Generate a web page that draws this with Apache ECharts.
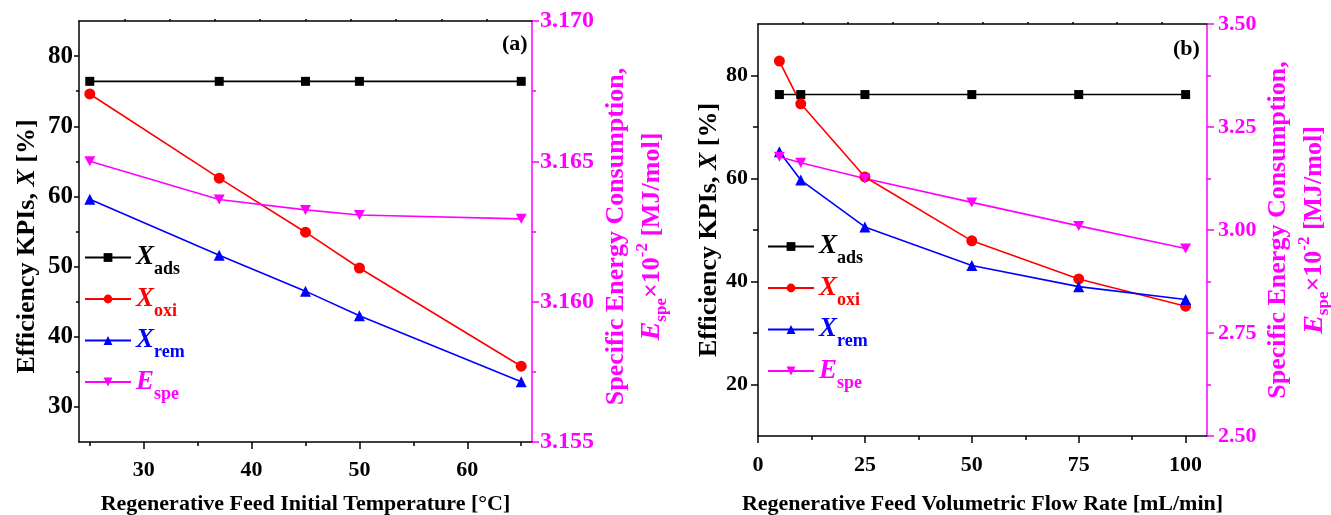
<!DOCTYPE html>
<html>
<head>
<meta charset="utf-8">
<script src="https://cdn.jsdelivr.net/npm/echarts@6/dist/echarts.min.js"></script>
<style>html,body{margin:0;padding:0;background:#fff;}#c{width:1331px;height:515px;}</style>
</head>
<body>
<div id="c"></div>
<script>
// ---------- data ----------
const tempA = [25, 37, 45, 50, 65];
const adsA  = [76.4, 76.4, 76.4, 76.4, 76.4];
const oxiA  = [74.6, 62.6, 54.9, 49.8, 35.8];
const remA  = [59.6, 51.6, 46.5, 43.0, 33.6];
const speA  = [3.1650, 3.16364, 3.16327, 3.16309, 3.16295];

const flowB = [5, 10, 25, 50, 75, 100];
const adsB  = [76.3, 76.3, 76.3, 76.3, 76.3, 76.3];
const oxiB  = [82.8, 74.5, 60.3, 47.9, 40.5, 35.2];
const remB  = [65.2, 59.7, 50.6, 43.1, 39.0, 36.5];
const speB  = [3.178, 3.163, 3.125, 3.067, 3.010, 2.955];

// tick labels
const xLabelsA = [30, 40, 50, 60];
const xMinorA  = [25, 35, 45, 55, 65];
const yLabelsA = [30, 40, 50, 60, 70, 80];
const yMinorA  = [35, 45, 55, 65, 75];
const eLabelsA = [3.155, 3.160, 3.165, 3.170];
const eMinorA  = [3.1575, 3.1625, 3.1675];

const xLabelsB = [0, 25, 50, 75, 100];
const xMinorB  = [12.5, 37.5, 62.5, 87.5];
const yLabelsB = [20, 40, 60, 80];
const yMinorB  = [30, 50, 70];
const eLabelsB = [2.50, 2.75, 3.00, 3.25, 3.50];
const eMinorB  = [2.625, 2.875, 3.125, 3.375];
const topTicks = [1, 2, 3, 4, 5, 6, 7, 8, 9];

// ---------- styling ----------
const FONT = "'Liberation Serif','Times New Roman',serif";
const BLACK = '#000000', RED = '#ff0000', BLUE = '#0000ff', MAG = '#ff00ff';

function pairs(xs, ys) { return xs.map((x, i) => [x, ys[i]]); }

function mainAxis(o) {
  return Object.assign({
    type: 'value', gridIndex: o.grid, position: o.pos, min: o.min, max: o.max,
    splitLine: { show: false },
    axisLine: { show: true, onZero: false, lineStyle: { color: o.color, width: 1.5 } },
    axisTick: { show: true, inside: false, length: o.len || 6, customValues: o.ticks,
                lineStyle: { color: o.color, width: 1.5 } },
    axisLabel: { show: !!o.labels, customValues: o.labels, margin: o.margin || 8,
                 color: o.color, fontFamily: FONT, fontWeight: 'bold', fontSize: o.fs || 22,
                 formatter: o.fmt || (v => String(v)) }
  }, o.extra || {});
}
function minorAxis(o) {
  return {
    type: 'value', gridIndex: o.grid, position: o.pos, min: o.min, max: o.max,
    splitLine: { show: false },
    axisLine: { show: false, onZero: false },
    axisTick: { show: true, inside: false, length: o.len || 4, customValues: o.ticks,
                lineStyle: { color: o.color, width: 1.5 } },
    axisLabel: { show: false }
  };
}

const nameStyle = (color, fs) => ({
  color: color, fontFamily: FONT, fontWeight: 'bold', fontSize: fs
});
const richY = {
  i: { fontFamily: FONT, fontWeight: 'bold', fontStyle: 'italic', fontSize: 26, color: BLACK }
};
const richE = {
  e:   { fontFamily: FONT, fontWeight: 'bold', fontStyle: 'italic', fontSize: 28, color: MAG },
  sub: { fontFamily: FONT, fontWeight: 'bold', fontSize: 17, color: MAG, verticalAlign: 'bottom', padding: [12, 0, 0, 0] },
  t:   { fontFamily: FONT, fontWeight: 'bold', fontSize: 26, color: MAG },
  sup: { fontFamily: FONT, fontWeight: 'bold', fontSize: 17, color: MAG, verticalAlign: 'top', padding: [0, 0, 12, 0] }
};
const eName = 'Specific Energy Consumption,\n{e|E}{sub|spe}{t|×10}{sup|-2}{t| [MJ/mol]}';

const LA = [25.0, 85.0], XA = [24, 66], EA = [3.155, 3.170];
const LB = [10, 90], XB = [0, 105], EB = [2.50, 3.50];

const xAxes = [
  mainAxis({ grid: 0, pos: 'bottom', min: XA[0], max: XA[1], color: BLACK, labels: xLabelsA, ticks: xLabelsA, len: 7, margin: 17,
    extra: { name: 'Regenerative Feed Initial Temperature [°C]', nameLocation: 'middle', nameGap: 51, nameTextStyle: nameStyle(BLACK, 22) } }),
  minorAxis({ grid: 0, pos: 'bottom', min: XA[0], max: XA[1], color: BLACK, ticks: xMinorA, len: 4 }),
  mainAxis({ grid: 0, pos: 'top', min: 0, max: 10, color: BLACK, ticks: topTicks, len: 2 }),
  mainAxis({ grid: 1, pos: 'bottom', min: XB[0], max: XB[1], color: BLACK, labels: xLabelsB, ticks: xLabelsB, len: 7, margin: 18,
    extra: { name: 'Regenerative Feed Volumetric Flow Rate [mL/min]', nameLocation: 'middle', nameGap: 57, nameTextStyle: nameStyle(BLACK, 22) } }),
  minorAxis({ grid: 1, pos: 'bottom', min: XB[0], max: XB[1], color: BLACK, ticks: xMinorB, len: 4 }),
  mainAxis({ grid: 1, pos: 'top', min: 0, max: 10, color: BLACK, ticks: topTicks, len: 2 })
];

const yAxes = [
  mainAxis({ grid: 0, pos: 'left', min: LA[0], max: LA[1], color: BLACK, labels: yLabelsA, ticks: yLabelsA, len: 5, margin: 6, fs: 25,
    extra: { name: 'Efficiency KPIs, {i|X} [%]', nameLocation: 'middle', nameGap: 39,
             nameTextStyle: Object.assign(nameStyle(BLACK, 26), { rich: richY, padding: [0, 30, 0, 0] }) } }),
  minorAxis({ grid: 0, pos: 'left', min: LA[0], max: LA[1], color: BLACK, ticks: yMinorA, len: 3 }),
  mainAxis({ grid: 0, pos: 'right', min: EA[0], max: EA[1], color: MAG, labels: eLabelsA, ticks: eLabelsA, len: 7, margin: 8, fs: 24,
    fmt: v => v.toFixed(3),
    extra: { name: eName, nameLocation: 'middle', nameRotate: 90, nameGap: 64,
             nameTextStyle: Object.assign(nameStyle(MAG, 26), { rich: richE, lineHeight: 36, padding: [0, 10, 0, 0] }) } }),
  minorAxis({ grid: 0, pos: 'right', min: EA[0], max: EA[1], color: MAG, ticks: eMinorA, len: 4 }),

  mainAxis({ grid: 1, pos: 'left', min: LB[0], max: LB[1], color: BLACK, labels: yLabelsB, ticks: yLabelsB, len: 7, margin: 10,
    extra: { name: 'Efficiency KPIs, {i|X} [%]', nameLocation: 'middle', nameGap: 33,
             nameTextStyle: Object.assign(nameStyle(BLACK, 26), { rich: richY }) } }),
  minorAxis({ grid: 1, pos: 'left', min: LB[0], max: LB[1], color: BLACK, ticks: yMinorB, len: 5 }),
  mainAxis({ grid: 1, pos: 'right', min: EB[0], max: EB[1], color: MAG, labels: eLabelsB, ticks: eLabelsB, len: 7, margin: 11,
    fmt: v => v.toFixed(2),
    extra: { name: eName, nameLocation: 'middle', nameRotate: 90, nameGap: 52,
             nameTextStyle: Object.assign(nameStyle(MAG, 26), { rich: richE, lineHeight: 36 }) } }),
  minorAxis({ grid: 1, pos: 'right', min: EB[0], max: EB[1], color: MAG, ticks: eMinorB, len: 4 })
];

const DOWN_TRI = 'path://M0,0 L12,0 L6,10.4 Z';
function ser(name, xs, ys, color, symbol, size, xi, yi) {
  return {
    type: 'line', name: name, data: pairs(xs, ys), xAxisIndex: xi, yAxisIndex: yi,
    symbol: symbol, symbolSize: size, showSymbol: true, animation: false,
    lineStyle: { color: color, width: 1.6 }, itemStyle: { color: color }, z: 3
  };
}
const series = [
  ser('a_ads', tempA, adsA, BLACK, 'rect', 9, 0, 0),
  ser('a_oxi', tempA, oxiA, RED, 'circle', 11, 0, 0),
  ser('a_rem', tempA, remA, BLUE, 'triangle', 11, 0, 0),
  ser('a_spe', tempA, speA, MAG, DOWN_TRI, [11, 10], 0, 2),
  ser('b_ads', flowB, adsB, BLACK, 'rect', 9, 3, 4),
  ser('b_oxi', flowB, oxiB, RED, 'circle', 11, 3, 4),
  ser('b_rem', flowB, remB, BLUE, 'triangle', 11, 3, 4),
  ser('b_spe', flowB, speB, MAG, DOWN_TRI, [11, 10], 3, 6)
];

const legendNames = { ads: ['X', 'ads', 'k'], oxi: ['X', 'oxi', 'r'], rem: ['X', 'rem', 'b'], spe: ['E', 'spe', 'm'] };
function legRich() {
  const r = {};
  [['k', BLACK], ['r', RED], ['b', BLUE], ['m', MAG]].forEach(([k, c]) => {
    r['m' + k] = { fontFamily: FONT, fontStyle: 'italic', fontWeight: 'bold', fontSize: 27, color: c, padding: [0, 0, 0, 0] };
    r['s' + k] = { fontFamily: FONT, fontWeight: 'bold', fontSize: 18, color: c, verticalAlign: 'bottom', padding: [24, 0, 0, 0] };
  });
  return r;
}
function legend(prefix, left, top) {
  return {
    orient: 'vertical', left: left, top: top, itemWidth: 46, itemHeight: 11, itemGap: 7, padding: 0,
    data: ['ads', 'oxi', 'rem', 'spe'].map(k => prefix + '_' + k),
    formatter: n => { const s = legendNames[n.split('_')[1]]; return '{m' + s[2] + '|' + s[0] + '}{s' + s[2] + '|' + s[1] + '}'; },
    textStyle: { rich: legRich() }, selectedMode: false
  };
}

const option = {
  backgroundColor: '#ffffff',
  animation: false,
  grid: [
    { left: 79, top: 21, width: 453, height: 421, containLabel: false, outerBoundsMode: 'none' },
    { left: 758, top: 24, width: 449, height: 412, containLabel: false, outerBoundsMode: 'none' }
  ],
  xAxis: xAxes,
  yAxis: yAxes,
  legend: [legend('a', 84, 244), legend('b', 767, 233)],
  series: series,
  graphic: [
    { type: 'text', left: 502, top: 33, style: { text: '(a)', fill: BLACK, font: 'bold 22px ' + FONT } },
    { type: 'text', left: 1173, top: 38, style: { text: '(b)', fill: BLACK, font: 'bold 22px ' + FONT } }
  ]
};

const chart = echarts.init(document.getElementById('c'), null, { renderer: 'canvas' });
chart.setOption(option);
</script>
</body>
</html>
